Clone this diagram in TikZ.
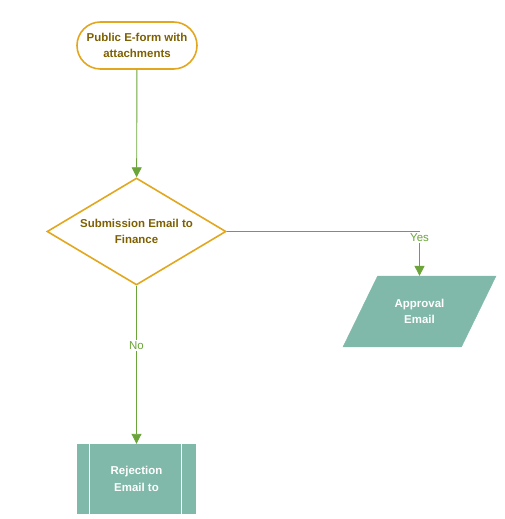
\documentclass[tikz,border=0pt]{standalone}
\usepackage{fontspec}
\setmainfont{Liberation Sans}
\usepackage{xcolor}
\usepackage{tikz}
\usetikzlibrary{positioning,shapes.geometric,shapes.misc,arrows.meta}
\definecolor{flowline}{HTML}{6BA539}
\definecolor{termedge}{HTML}{E2A71E}
\definecolor{termtext}{HTML}{7F6000}
\definecolor{tealbox}{HTML}{80B9A9}
\tikzset{
  % --- boxes -----------------------------------------------------------------
  termbox/.style={rounded rectangle,draw=termedge,fill=white,line width=1.6bp,
                  minimum width=120bp,minimum height=47bp,inner sep=0pt,
                  align=center,text=termtext,font=\fontsize{11.5}{16.5}\selectfont\bfseries},
  decbox/.style={diamond,draw=termedge,fill=white,line width=1.6bp,aspect=1.67,
                 minimum width=179bp,minimum height=107bp,inner sep=0pt,
                 align=center,text=termtext,font=\fontsize{11.5}{16.5}\selectfont\bfseries},
  % slant comes from the body height, so the height is made by inner ysep
  iobox/.style={trapezium,trapezium left angle=64,trapezium right angle=116,
                trapezium stretches body,fill=tealbox,draw=tealbox,
                minimum width=153bp,inner xsep=0pt,inner ysep=23bp,
                align=center,text=white,font=\fontsize{11.5}{16.5}\selectfont\bfseries},
  procbox/.style={rectangle,fill=tealbox,minimum width=119bp,minimum height=70bp,
                  inner sep=0pt,align=center,text=white,
                  font=\fontsize{11.5}{16.5}\selectfont\bfseries},
  % --- connectors ------------------------------------------------------------
  flow/.style={-{Triangle[length=10bp,width=10bp]},flowline,line width=0.9bp},
  flab/.style={fill=white,inner sep=1.5pt,text=flowline,
               font=\fontsize{11.5}{13}\selectfont},
}
\begin{document}
\begin{tikzpicture}[x=1bp,y=-1bp]
  \useasboundingbox (0,0) rectangle (505,519);

  \node[termbox] (start)   at (137,45.5)    {Public E-form with\\attachments};
  \node[decbox]  (check)   at (136.5,231.5) {Submission Email to\\Finance};
  \node[iobox]   (approve) at (419.5,311.5) {Approval\\Email};
  \node[procbox] (reject)  at (136.5,479)   {Rejection\\Email to};

  % side bars of the predefined process box
  \draw[white,line width=0.8bp] ([xshift=13bp]reject.north west) -- ([xshift=13bp]reject.south west);
  \draw[white,line width=0.8bp] ([xshift=-15bp]reject.north east) -- ([xshift=-15bp]reject.south east);

  \draw[flow] (start) -- (check);
  \draw[flow] (check.east) -| node[flab,pos=0.57]{Yes} (approve.north);
  \draw[flow] (check.south) -- node[flab,pos=0.38]{No} (reject.north);
\end{tikzpicture}
\end{document}
